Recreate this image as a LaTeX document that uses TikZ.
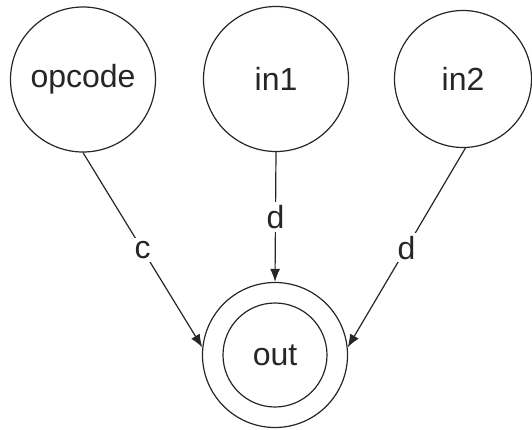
\documentclass[tikz,border=0pt]{standalone}
\usepackage{fontspec}
\setmainfont{Liberation Sans}
\usetikzlibrary{arrows.meta}
\begin{document}
\begin{tikzpicture}[x=1pt,y=1pt,
  state/.style={circle,draw=black!85,line width=1.2pt,minimum size=145pt,inner sep=0pt,
    font=\fontsize{32}{38}\selectfont,text=black!85},
  inner/.style={circle,draw=black!85,line width=1.2pt,minimum size=104pt,inner sep=0pt,
    font=\fontsize{32}{38}\selectfont,text=black!85},
  link/.style={draw=black!85,line width=1.2pt,-{Latex[length=13pt,width=10pt]}},
  lbl/.style={fill=white,inner sep=3pt,font=\fontsize{32}{38}\selectfont,text=black!85}]
  \useasboundingbox (0,0) rectangle (532,-430);
  \node[state] (opcode) at (83,-79.5) {opcode};
  \node[state] (in1) at (276,-79) {in1};
  \node[state,minimum size=137pt] (in2) at (463,-79) {in2};
  \node[state] (out) at (275,-355) {};
  \node[inner] (outin) at (275,-355) {out};
  \draw[link] (opcode.south) -- node[lbl] {c} (out.174);
  \draw[link] (in1.south) -- node[lbl] {d} (out.north);
  \draw[link] (in2.272) -- node[lbl] {d} (out.6);
\end{tikzpicture}
\end{document}
